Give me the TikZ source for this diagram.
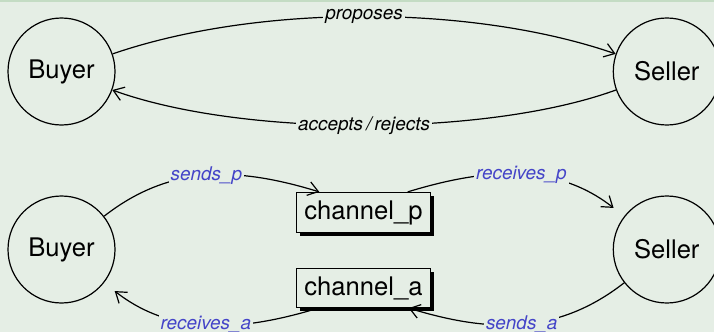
\documentclass[tikz,border=0pt]{standalone}
\usepackage{fontspec}
\setmainfont{TeX Gyre Heros}
\usepackage{tikz}
\usetikzlibrary{arrows.meta, shadows}
\definecolor{bg}{RGB}{229, 238, 229}
\definecolor{band}{RGB}{196, 220, 196}
\definecolor{msgblue}{RGB}{68, 68, 200}

\begin{document}
\begin{tikzpicture}[x=0.5pt, y=0.5pt, line width=0.6pt,
  >={Straight Barb[length=5pt, width=7pt]},
  agent/.style={circle, draw, minimum size=53.5pt, inner sep=0pt,
    font=\fontsize{12.8}{15}\selectfont},
  chan/.style={rectangle, draw, line width=0.5pt, fill=bg, inner sep=4pt,
    font=\fontsize{12.8}{15}\selectfont,
    general shadow={fill=black, shadow xshift=1.6pt, shadow yshift=-1.6pt}},
  msg/.style={fill=bg, inner sep=1pt, font=\fontsize{9.45}{11}\selectfont\itshape}]

  \fill [bg] (0, 0) rectangle (714, -332);
  \fill [band] (0, 0) rectangle (714, -2);
  \useasboundingbox (0, 0) rectangle (714, -332);

  % direct exchange
  \node [agent] (buyer1) at (61.5, -71.5) {Buyer};
  \node [agent] (seller1) at (666.8, -71.5) {Seller};

  \draw [->] (buyer1) to [out=19, in=161, looseness=0.78]
  node [msg] {proposes} (seller1);
  \draw [->] (seller1) to [out=200, in=340, looseness=0.7]
  node [msg] {accepts\,/\,rejects} (buyer1);

  % exchange over channels
  \node [agent] (buyer2) at (61.5, -249.5) {Buyer};
  \node [agent] (seller2) at (666.8, -249.5) {Seller};
  \node [chan] (chanp) at (363.5, -212.5) {channel\_p};
  \node [chan] (chana) at (363.5, -288) {channel\_a};

  \draw [->] (buyer2) to [out=38, in=163]
  node [msg, text=msgblue] {sends\_p} (chanp.155);
  \draw [->, shorten >=6.7pt] (chanp.25) to [out=17, in=142]
  node [msg, text=msgblue] {receives\_p} (seller2);
  \draw [->] (seller2) to [out=218, in=343]
  node [msg, text=msgblue] {sends\_a} (chana.336);
  \draw [->, shorten >=6.7pt] (chana.204) to [out=197, in=322]
  node [msg, text=msgblue] {receives\_a} (buyer2);

\end{tikzpicture}
\end{document}
